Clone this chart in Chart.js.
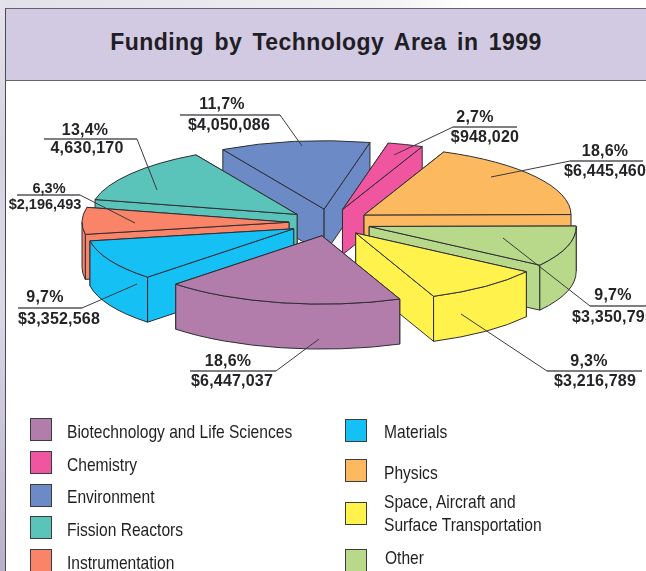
<!DOCTYPE html>
<html>
<head>
<meta charset="utf-8">
<script src="https://cdn.jsdelivr.net/npm/chart.js@4"></script>
<style>
html,body{margin:0;padding:0;width:646px;height:571px;overflow:hidden;background:#fff}
#page{position:absolute;left:0;top:0;width:646px;height:571px;overflow:hidden;
 background:linear-gradient(90deg,#e2e1e9 0,#e8e8ee 200px,#f4f4f6 400px,#fff 470px)}
#leftStrip{position:absolute;left:0;top:0;width:5px;height:571px;
 background:linear-gradient(180deg,#e4e2ea 0,#d6d3e0 150px,#dcd9e6 300px,#c4bdd2 480px,#b8b0c8 571px)}
#panel{position:absolute;left:5px;top:9px;width:641px;height:562px;background:#fff;
 border-left:1.5px solid #4e4a55;box-sizing:border-box}
#header{position:absolute;left:5px;top:8px;width:641px;height:73px;background:#d2c9e2;
 border-top:1.5px solid #66626c;border-bottom:1.5px solid #66626c;border-left:1.5px solid #4e4a55;box-sizing:border-box}
#title{position:absolute;left:0;top:28px;width:652px;text-align:center;font:bold 23px "Liberation Sans",Arial,sans-serif;
 color:#201e24;letter-spacing:.45px;word-spacing:3.5px;line-height:28px;white-space:nowrap}
canvas{position:absolute;left:0;top:0}
.lbl{position:absolute;transform:translate(-50%,-50%);font:bold 16px "Liberation Sans",Arial,sans-serif;color:#242426;
 letter-spacing:.2px;white-space:nowrap;line-height:18px}
.sw{position:absolute;width:20px;height:21px;border:1px solid #3c3c40;box-sizing:content-box}
.lg{position:absolute;font:19px "Liberation Sans",Arial,sans-serif;color:#1f1f22;white-space:nowrap;line-height:22px;
 transform:translateY(-50%) scaleX(.82);transform-origin:left center}
</style>
</head>
<body>
<div id="page">
<div id="leftStrip"></div>
<div id="panel"></div>
<div id="header"></div>
<div id="title">Funding by Technology Area in 1999</div>
<canvas id="c" width="646" height="571" style="width:646px;height:571px"></canvas>
</div>
<script>
// ---- data, clockwise around the pie ----
const categories = ["Chemistry","Physics","Other","Space, Aircraft and Surface Transportation","Biotechnology and Life Sciences","Materials","Instrumentation","Fission Reactors","Environment"];
const fundingValues = [948020,6445460,3350795,3216789,6447037,3352568,2196493,4630170,4050086];
const percentLabels = ["2,7%","18,6%","9,7%","9,3%","18,6%","9,7%","6,3%","13,4%","11,7%"];
const amountLabels = ["$948,020","$6,445,460","$3,350,795","$3,216,789","$6,447,037","$3,352,568","$2,196,493","4,630,170","$4,050,086"];
const sliceColors = ["#f055a0","#fdb95f","#b9d98a","#fff24d","#b27dab","#15c0f5","#f98468","#5ac4bb","#6b8ac6"];
const chartTitle = "Funding by Technology Area in 1999";

// ---- layout and style ----
const TILT = 0.33, DEPTH = 45, EXPLODE = 41, ROTATION = 12.8, RADIUS = 207, EDGE = "#2e2e34";
const leaders = [ // start, elbow, end of the underline
 [[394,155],[453,127],[517,127]],
 [[491,177],[570,161],[643,161]],
 [[503,238],[590,306],[646,306]],
 [[461,314],[547,371],[642,371]],
 [[319,339],[276,371],[190,371]],
 [[137,284],[82,308],[18,308]],
 [[135,223],[80,195],[17,195]],
 [[157,190],[137,139],[44,139]],
 [[302,146],[280,115],[180,115]]
];
const labelSpots = [ // pct x,y, amount x,y, optional font size
 [475,117,485,137],[605,151,605,171],[613,295,613,317],[589,361,595,381],[228,361,232,381],
 [45,297,59,319],[49,188,45,204,14.5],[85,130,87,148],[222,104,229,125]
];
const legendEntries = [ // category index, swatch x,y, text x, text y, optional text lines
 [4,30,418,67,432],[0,30,451,67,465],[8,30,484,67,497],[7,30,516,67,530],[6,30,549,67,563],
 [5,345,419,384,432],[1,345,459,384,473],[3,345,502,384,502,["Space, Aircraft and","Surface Transportation"]],[2,345,549,385,558]
];

const pie3d = {
 id:"pie3d",
 beforeDatasetsDraw(chart){
  const ctx = chart.ctx;
  const arcs = chart.getDatasetMeta(0).data.map((el,i)=>({el,i,mid:(el.startAngle+el.endAngle)/2}));
  arcs.sort((a,b)=>Math.sin(a.mid)-Math.sin(b.mid));
  ctx.save();
  ctx.lineWidth = 1; ctx.strokeStyle = EDGE; ctx.lineJoin = "round";
  for(const {el,i,mid} of arcs){
   const cx = el.x + Math.cos(mid)*EXPLODE, cy = el.y + Math.sin(mid)*EXPLODE*TILT;
   const r = el.outerRadius, ry = r*TILT, a = el.startAngle, b = el.endAngle;
   const px = t=>cx+r*Math.cos(t), py = t=>cy+ry*Math.sin(t);
   ctx.fillStyle = el.options.backgroundColor;
   const paint=()=>{ctx.closePath();ctx.fill();ctx.stroke();};
   const wall=t=>{ctx.beginPath();ctx.moveTo(cx,cy);ctx.lineTo(px(t),py(t));ctx.lineTo(px(t),py(t)+DEPTH);ctx.lineTo(cx,cy+DEPTH);paint();};
   // faces turned away first, then faces toward the viewer
   const startFront = Math.cos(a)<0, endFront = Math.cos(b)>0;
   if(!startFront) wall(a);
   if(!endFront) wall(b);
   if(startFront) wall(a);
   if(endFront) wall(b);
   for(let n=-1;n<=2;n++){
    const lo=Math.max(a,2*Math.PI*n), hi=Math.min(b,Math.PI+2*Math.PI*n);
    if(hi>lo){
     ctx.beginPath();ctx.ellipse(cx,cy,r,ry,0,lo,hi);
     ctx.lineTo(px(hi),py(hi)+DEPTH);
     ctx.ellipse(cx,cy+DEPTH,r,ry,0,hi,lo,true);paint();
    }
   }
   ctx.beginPath();ctx.moveTo(cx,cy);ctx.ellipse(cx,cy,r,ry,0,a,b);paint();
  }
  ctx.restore();
  return false;
 },
 afterDraw(chart){
  const ctx = chart.ctx;
  ctx.save();
  for(const [s,e,u] of leaders){
   ctx.strokeStyle="#3a3a3e";ctx.lineWidth=1;
   ctx.beginPath();ctx.moveTo(s[0],s[1]);ctx.lineTo(e[0],e[1]);ctx.stroke();
   ctx.strokeStyle="#55555a";ctx.lineWidth=1.3;
   ctx.beginPath();ctx.moveTo(e[0],e[1]);ctx.lineTo(u[0],u[1]);ctx.stroke();
  }
  ctx.restore();
 }
};

new Chart(document.getElementById("c"),{
 type:"pie",
 data:{labels:categories,datasets:[{data:fundingValues,backgroundColor:sliceColors,borderWidth:0}]},
 options:{
  responsive:false,animation:false,radius:RADIUS,rotation:ROTATION,
  layout:{padding:{left:14,bottom:126}},
  plugins:{legend:{display:false},tooltip:{enabled:false},title:{display:false,text:chartTitle}}
 },
 plugins:[pie3d]
});

// ---- text ----
const page=document.getElementById("page");
function add(cls,txt,css){const d=document.createElement("div");d.className=cls;d.textContent=txt;Object.assign(d.style,css);page.appendChild(d);return d;}
labelSpots.forEach((s,i)=>{
 const fs=s[4]?{fontSize:s[4]+"px",letterSpacing:"0"}:{};
 add("lbl",percentLabels[i],{left:s[0]+"px",top:s[1]+"px",...fs});
 add("lbl",amountLabels[i],{left:s[2]+"px",top:s[3]+"px",...fs});
});
legendEntries.forEach(([k,sx,sy,tx,ty,lines])=>{
 const d=document.createElement("div");d.className="sw";
 Object.assign(d.style,{left:sx+"px",top:sy+"px",background:sliceColors[k]});page.appendChild(d);
 (lines||[categories[k]]).forEach((t,n)=>add("lg",t,{left:tx+"px",top:(ty+n*23)+"px"}));
});
</script>
</body>
</html>
